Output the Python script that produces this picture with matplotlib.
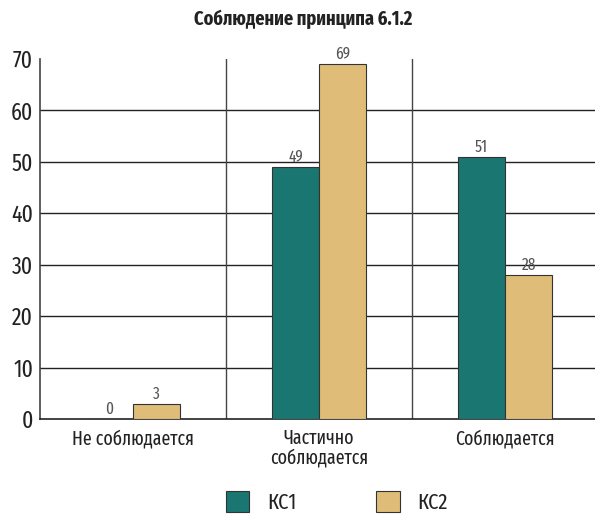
import matplotlib
matplotlib.use("Agg")
import matplotlib.pyplot as plt
import numpy as np
from matplotlib.patches import Patch

categories = ["Не соблюдается", "Частично\nсоблюдается", "Соблюдается"]
series_names = ["КС1", "КС2"]
kc1 = [0, 49, 51]
kc2 = [3, 69, 28]
colors = ["#1a7670", "#dfbd79"]
title = "Соблюдение принципа 6.1.2"

plt.rcParams["font.family"] = ["Fira Sans Extra Condensed", "DejaVu Sans"]
plt.rcParams["font.weight"] = "normal"
plt.rcParams["text.color"] = "#222222"
plt.rcParams["xtick.color"] = "#222222"
plt.rcParams["ytick.color"] = "#222222"

fig = plt.figure(figsize=(5.95, 5.15), dpi=100)
ax = fig.add_axes([0.0672, 0.1864, 0.938, 0.699])

x = np.arange(len(categories))
width = 0.253
for offset, values, color in ((-width / 2, kc1, colors[0]), (width / 2, kc2, colors[1])):
    bars = ax.bar(x + offset, values, width, color=color, edgecolor="#333333", linewidth=0.8, zorder=3)
    ax.bar_label(bars, padding=1, fontsize=12, color="#555555")

ax.set_xlim(-0.5, len(categories) - 0.5)
ax.set_ylim(0, 70)
ax.set_yticks(range(0, 71, 10))
ax.set_xticks(x)
ax.set_xticklabels(categories, fontsize=14, linespacing=1.0)
ax.tick_params(axis="y", labelsize=17, length=0, pad=5)
ax.tick_params(axis="x", length=0, pad=7)

for y in range(10, 70, 10):
    ax.axhline(y, color="#222222", linewidth=1.0, zorder=1)
for b in np.arange(0.5, len(categories) - 0.5, 1.0):
    ax.axvline(b, color="#444444", linewidth=1.0, zorder=1)

for side in ("top", "right"):
    ax.spines[side].set_visible(False)
ax.spines["left"].set_color("#444444")
ax.spines["bottom"].set_color("#222222")
ax.spines["left"].set_linewidth(1.2)
ax.spines["bottom"].set_linewidth(1.2)

fig.text(0.509, 0.963, title, ha="center", va="center", fontsize=14.3, fontweight="bold")

handles = [Patch(facecolor=c, edgecolor="#333333", linewidth=0.8) for c in colors]
fig.legend(handles, series_names, loc="center", bbox_to_anchor=(0.566, 0.024), ncol=2,
           frameon=False, fontsize=16, handlelength=1.05, handleheight=1.05,
           handletextpad=0.8, columnspacing=3.6)

fig.savefig("out.png", dpi=100)
